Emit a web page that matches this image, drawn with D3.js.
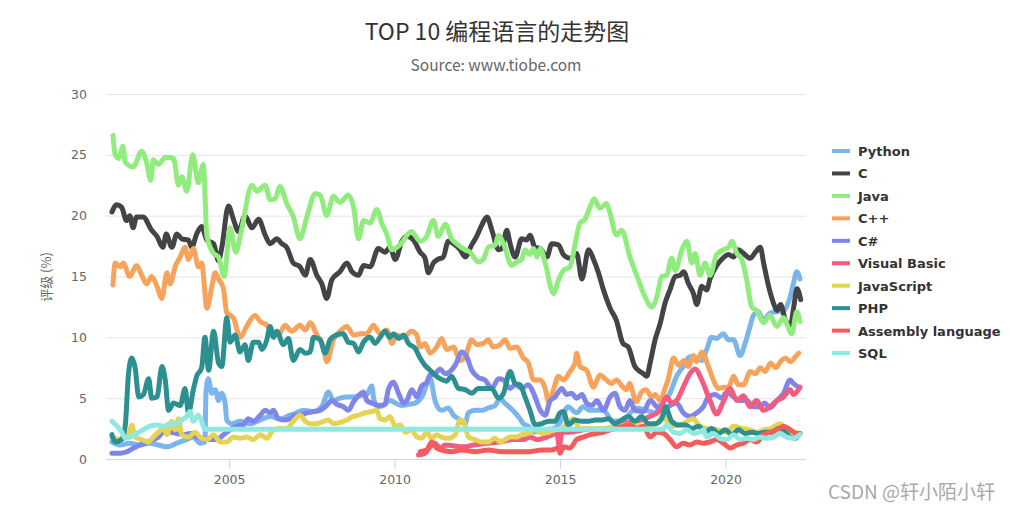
<!DOCTYPE html>
<html><head><meta charset="utf-8">
<script src="https://cdn.jsdelivr.net/npm/d3@7/dist/d3.min.js"></script>
<style>body{margin:0;background:#fff;} svg{display:block;}</style>
</head><body><svg id="chart" width="1010" height="511"></svg>
<script>
const titleText = "TOP 10 编程语言的走势图";
const subtitleText = "Source: www.tiobe.com";
const yAxisTitle = "评级 (%)";
const yTicks = [0, 5, 10, 15, 20, 25, 30];
const xTicks = [2005, 2010, 2015, 2020];
const seriesNames = ["Python", "C", "Java", "C++", "C#", "Visual Basic", "JavaScript", "PHP", "Assembly language", "SQL"];
const seriesColors = ["#7cb5ec", "#434348", "#90ed7d", "#f7a35c", "#8085e9", "#f15c80", "#e4d354", "#2b908f", "#f45b5b", "#91e8e1"];

// [year, rating %]
const pythonData = [[2001.46,1.4],[2001.71,1.15],[2002.0,1.3],[2002.3,1.15],[2002.6,1.3],[2002.86,1.15],[2003.12,1.0],[2003.42,1.3],[2003.72,1.6],[2003.92,1.8],[2004.12,1.3],[2004.27,1.4],[2004.3,5.4],[2004.37,6.6],[2004.48,5.4],[2004.58,5.7],[2004.68,4.8],[2004.78,5.4],[2004.88,4.6],[2004.93,3.2],[2005.08,2.9],[2005.33,3.1],[2005.63,2.9],[2005.94,3.2],[2006.24,3.5],[2006.54,3.3],[2006.84,3.6],[2007.04,3.8],[2007.24,4.0],[2007.55,3.9],[2007.8,4.3],[2008.0,5.5],[2008.15,4.8],[2008.35,5.0],[2008.56,5.1],[2008.76,5.1],[2008.91,5.2],[2009.16,5.3],[2009.31,6.0],[2009.38,4.8],[2009.51,4.3],[2009.66,4.4],[2009.86,4.8],[2010.02,4.6],[2010.22,4.4],[2010.42,4.5],[2010.62,4.6],[2010.82,5.1],[2011.08,6.6],[2011.22,4.8],[2011.42,4.0],[2011.62,4.2],[2011.78,3.6],[2011.93,3.3],[2012.13,2.9],[2012.23,3.8],[2012.43,4.0],[2012.63,4.0],[2012.83,4.2],[2013.04,4.4],[2013.19,5.0],[2013.29,4.7],[2013.49,4.2],[2013.64,3.8],[2013.79,3.3],[2013.89,2.9],[2014.04,2.7],[2014.2,2.2],[2014.5,2.4],[2014.8,2.5],[2015.0,3.0],[2015.24,4.3],[2015.5,3.8],[2015.7,4.3],[2015.9,4.0],[2016.3,4.0],[2016.6,3.1],[2016.9,3.2],[2017.31,4.2],[2017.61,4.0],[2017.87,3.8],[2018.07,4.6],[2018.32,5.4],[2018.52,6.8],[2018.72,7.6],[2018.92,8.4],[2019.13,8.3],[2019.28,8.1],[2019.43,9.0],[2019.58,10.0],[2019.73,9.9],[2019.93,10.3],[2020.09,9.8],[2020.24,9.8],[2020.44,8.5],[2020.59,9.5],[2020.74,10.9],[2020.84,11.8],[2020.99,12.1],[2021.14,11.4],[2021.34,12.0],[2021.54,12.1],[2021.75,12.2],[2021.95,13.3],[2022.05,14.4],[2022.15,15.4],[2022.25,14.8]];
const cData = [[2001.46,20.3],[2001.6,20.9],[2001.75,20.7],[2001.9,19.6],[2002.0,20.0],[2002.1,19.0],[2002.2,19.9],[2002.4,19.9],[2002.66,18.8],[2002.82,18.3],[2003.0,17.4],[2003.1,18.5],[2003.27,17.4],[2003.42,18.5],[2003.57,18.1],[2003.77,18.0],[2003.87,17.4],[2004.02,18.5],[2004.17,19.1],[2004.33,18.0],[2004.53,17.7],[2004.68,16.3],[2004.78,17.4],[2004.98,20.8],[2005.13,19.7],[2005.28,18.7],[2005.48,20.0],[2005.69,19.0],[2005.89,19.7],[2006.09,18.4],[2006.24,17.7],[2006.44,18.1],[2006.59,17.7],[2006.74,17.4],[2006.94,16.1],[2007.14,15.8],[2007.3,15.1],[2007.45,16.4],[2007.65,15.1],[2007.8,14.4],[2007.95,13.2],[2008.1,14.7],[2008.35,15.4],[2008.56,16.1],[2008.71,15.4],[2008.91,15.1],[2009.06,15.9],[2009.26,15.8],[2009.51,17.3],[2009.71,17.0],[2009.86,17.4],[2010.02,16.4],[2010.22,17.9],[2010.37,18.3],[2010.57,18.0],[2010.77,17.0],[2010.92,16.5],[2011.02,15.3],[2011.17,16.1],[2011.3,16.4],[2011.47,16.6],[2011.62,17.9],[2011.78,17.7],[2011.98,17.2],[2012.13,16.6],[2012.33,17.6],[2012.48,18.3],[2012.63,19.2],[2012.79,19.9],[2012.94,18.8],[2013.14,17.2],[2013.24,17.3],[2013.39,18.8],[2013.49,17.7],[2013.64,16.6],[2013.84,18.1],[2013.99,18.0],[2014.09,18.4],[2014.24,17.4],[2014.4,17.3],[2014.6,16.6],[2014.75,17.7],[2014.95,17.6],[2015.1,16.8],[2015.3,16.5],[2015.5,16.9],[2015.66,14.8],[2015.86,17.2],[2016.01,16.4],[2016.16,15.3],[2016.31,13.9],[2016.51,12.4],[2016.7,11.4],[2016.9,9.5],[2017.06,9.2],[2017.26,7.6],[2017.41,7.2],[2017.52,7.0],[2017.62,6.8],[2017.72,7.9],[2017.87,9.8],[2018.02,11.1],[2018.17,12.8],[2018.32,13.9],[2018.48,15.0],[2018.63,15.1],[2018.73,15.4],[2018.88,14.4],[2019.03,13.6],[2019.13,12.7],[2019.28,14.2],[2019.43,13.9],[2019.53,14.8],[2019.73,15.9],[2019.88,16.4],[2020.09,16.8],[2020.24,16.6],[2020.39,17.2],[2020.54,16.9],[2020.75,16.5],[2020.9,17.0],[2021.05,17.4],[2021.15,16.1],[2021.3,14.2],[2021.45,12.8],[2021.55,12.2],[2021.66,12.7],[2021.81,11.4],[2021.96,11.0],[2022.06,12.5],[2022.16,14.0],[2022.27,13.1]];
const javaData = [[2001.49,26.6],[2001.56,25.0],[2001.66,24.7],[2001.79,25.7],[2001.86,24.4],[2002.1,24.0],[2002.36,25.3],[2002.51,24.3],[2002.63,22.9],[2002.71,24.6],[2002.86,24.2],[2003.07,24.8],[2003.32,24.7],[2003.47,22.5],[2003.57,23.2],[2003.72,22.0],[2003.9,25.0],[2004.07,22.7],[2004.22,24.2],[2004.33,18.3],[2004.53,16.9],[2004.68,16.6],[2004.85,15.0],[2005.03,19.0],[2005.2,17.0],[2005.35,18.5],[2005.69,22.5],[2005.84,22.0],[2006.09,22.5],[2006.24,21.3],[2006.39,21.4],[2006.54,22.4],[2006.74,21.0],[2006.94,19.9],[2007.14,18.1],[2007.35,19.9],[2007.6,21.8],[2007.75,21.7],[2007.95,20.0],[2008.15,21.6],[2008.35,21.1],[2008.6,21.7],[2008.76,20.7],[2008.91,18.1],[2009.06,19.6],[2009.26,19.4],[2009.46,20.5],[2009.61,19.4],[2009.76,18.5],[2009.92,17.2],[2010.16,17.6],[2010.51,18.7],[2010.77,17.9],[2010.97,18.3],[2011.17,19.6],[2011.32,18.3],[2011.53,19.3],[2011.72,18.1],[2011.87,17.7],[2012.07,17.3],[2012.28,17.0],[2012.53,16.2],[2012.68,16.4],[2012.83,17.4],[2013.04,17.6],[2013.14,18.4],[2013.29,17.7],[2013.54,15.9],[2013.69,16.2],[2013.84,16.4],[2013.94,17.2],[2014.09,16.8],[2014.2,17.3],[2014.3,16.6],[2014.4,17.3],[2014.55,16.1],[2014.8,13.6],[2014.95,14.7],[2015.1,15.5],[2015.3,15.8],[2015.45,17.6],[2015.6,19.4],[2015.75,19.7],[2015.9,20.7],[2016.03,21.4],[2016.2,20.6],[2016.4,21.0],[2016.5,20.3],[2016.7,18.4],[2016.86,18.8],[2017.11,16.6],[2017.37,14.7],[2017.57,13.3],[2017.77,12.5],[2017.92,13.3],[2018.07,15.0],[2018.22,15.1],[2018.37,16.5],[2018.48,15.5],[2018.68,17.2],[2018.83,17.9],[2018.98,16.1],[2019.08,16.9],[2019.23,15.1],[2019.38,16.1],[2019.53,15.1],[2019.73,16.8],[2019.94,17.2],[2020.09,17.4],[2020.19,17.9],[2020.34,16.9],[2020.49,16.4],[2020.64,14.7],[2020.79,12.5],[2020.94,12.2],[2021.15,11.2],[2021.34,11.8],[2021.55,10.9],[2021.75,11.6],[2022.0,10.3],[2022.15,12.1],[2022.25,11.3]];
const cppData = [[2001.49,14.3],[2001.56,16.1],[2001.71,15.8],[2001.8,16.1],[2002.0,15.0],[2002.2,15.9],[2002.36,15.1],[2002.51,14.4],[2002.66,15.0],[2002.82,14.2],[2002.97,13.2],[2003.12,15.3],[2003.22,14.4],[2003.37,15.8],[2003.52,16.6],[2003.67,17.4],[2003.77,16.4],[2003.92,17.3],[2004.07,15.8],[2004.17,16.1],[2004.33,12.4],[2004.48,14.2],[2004.58,15.3],[2004.68,14.8],[2004.83,14.0],[2004.93,12.0],[2005.13,11.6],[2005.33,10.0],[2005.53,10.9],[2005.78,11.8],[2005.94,11.3],[2006.14,11.0],[2006.29,10.5],[2006.49,10.2],[2006.69,11.0],[2006.89,10.5],[2007.14,11.0],[2007.3,10.6],[2007.45,11.2],[2007.65,10.2],[2007.85,9.2],[2007.95,8.0],[2008.15,9.8],[2008.35,10.5],[2008.56,10.9],[2008.76,10.2],[2008.96,10.3],[2009.16,10.3],[2009.36,11.0],[2009.56,10.3],[2009.76,10.6],[2009.92,9.5],[2010.07,10.2],[2010.27,10.0],[2010.51,10.5],[2010.67,10.2],[2010.77,9.2],[2010.92,9.5],[2011.07,8.7],[2011.27,9.2],[2011.42,9.9],[2011.57,9.0],[2011.78,9.2],[2011.98,8.1],[2012.13,8.4],[2012.33,9.8],[2012.48,9.4],[2012.68,9.5],[2012.83,9.8],[2012.98,9.2],[2013.19,9.4],[2013.34,9.8],[2013.49,9.1],[2013.69,9.2],[2013.89,8.3],[2014.04,7.9],[2014.2,6.5],[2014.4,6.5],[2014.55,5.8],[2014.65,4.7],[2014.8,5.7],[2014.95,6.8],[2015.1,6.5],[2015.3,7.2],[2015.45,7.9],[2015.5,8.7],[2015.6,7.6],[2015.8,7.3],[2016.01,5.9],[2016.2,6.9],[2016.4,6.5],[2016.55,6.2],[2016.7,6.5],[2016.9,5.9],[2017.0,5.7],[2017.1,6.2],[2017.3,4.7],[2017.46,5.5],[2017.6,5.7],[2017.77,5.1],[2017.87,5.3],[2018.02,4.8],[2018.17,5.8],[2018.27,6.6],[2018.43,8.3],[2018.58,7.7],[2018.73,8.1],[2018.88,7.6],[2019.03,8.5],[2019.13,8.0],[2019.28,8.8],[2019.48,7.6],[2019.63,6.5],[2019.78,5.8],[2019.94,5.9],[2020.09,5.9],[2020.24,6.8],[2020.39,6.1],[2020.54,6.1],[2020.75,7.2],[2020.9,7.0],[2021.05,7.5],[2021.2,7.2],[2021.36,7.9],[2021.51,7.5],[2021.66,8.0],[2021.81,8.3],[2021.96,8.0],[2022.11,8.4],[2022.21,8.7]];
const csharpData = [[2001.46,0.47],[2001.71,0.47],[2001.91,0.6],[2002.11,0.9],[2002.31,1.15],[2002.51,1.4],[2002.71,1.6],[2002.86,1.8],[2003.02,2.2],[2003.22,2.2],[2003.42,2.1],[2003.62,2.0],[2003.82,2.1],[2004.02,1.8],[2004.22,1.7],[2004.43,1.6],[2004.63,1.6],[2004.83,2.0],[2005.03,2.4],[2005.23,2.7],[2005.43,2.8],[2005.58,3.3],[2005.73,3.1],[2005.94,3.6],[2006.09,4.0],[2006.24,3.8],[2006.34,4.0],[2006.49,3.3],[2006.64,3.2],[2006.84,3.3],[2006.99,3.6],[2007.14,3.6],[2007.35,3.8],[2007.55,3.9],[2007.75,4.0],[2007.95,4.4],[2008.1,4.8],[2008.25,4.5],[2008.45,4.3],[2008.6,4.0],[2008.76,4.7],[2008.91,5.2],[2009.06,5.5],[2009.16,4.8],[2009.31,4.6],[2009.51,4.4],[2009.71,4.5],[2009.81,5.7],[2009.96,6.3],[2010.12,5.4],[2010.27,4.6],[2010.37,4.8],[2010.52,5.7],[2010.67,5.1],[2010.82,6.0],[2010.97,6.3],[2011.07,6.9],[2011.22,7.0],[2011.37,7.4],[2011.53,7.0],[2011.68,7.2],[2011.85,7.8],[2012.03,8.8],[2012.18,8.4],[2012.33,7.3],[2012.53,6.7],[2012.73,6.5],[2012.94,5.8],[2013.14,6.6],[2013.29,6.5],[2013.49,5.8],[2013.64,6.1],[2013.84,5.8],[2014.04,6.1],[2014.2,5.4],[2014.4,4.0],[2014.55,3.6],[2014.7,4.8],[2014.85,5.1],[2015.05,5.8],[2015.2,5.3],[2015.35,5.4],[2015.5,5.0],[2015.66,5.3],[2015.8,4.6],[2015.96,4.4],[2016.11,4.8],[2016.31,4.0],[2016.51,5.1],[2016.66,5.4],[2016.81,4.3],[2016.96,4.0],[2017.11,4.8],[2017.26,4.0],[2017.52,3.9],[2017.72,4.8],[2017.92,4.3],[2018.12,4.0],[2018.32,4.4],[2018.52,4.6],[2018.72,3.8],[2018.92,3.5],[2019.13,3.8],[2019.33,4.3],[2019.48,5.1],[2019.68,5.3],[2019.88,5.0],[2020.04,5.5],[2020.24,5.1],[2020.44,4.8],[2020.64,4.8],[2020.84,4.3],[2021.04,4.3],[2021.19,4.6],[2021.34,4.2],[2021.55,4.8],[2021.75,5.4],[2021.95,6.5],[2022.05,6.2],[2022.2,5.9]];
const vbData = [[2010.72,0.33],[2010.92,0.47],[2011.07,1.0],[2011.22,1.3],[2011.37,0.9],[2011.53,1.15],[2012.08,1.0],[2012.38,1.15],[2012.79,1.3],[2013.19,1.4],[2013.59,1.6],[2013.89,1.6],[2014.09,1.8],[2014.3,1.6],[2014.6,1.8],[2014.9,2.1],[2014.98,1.0],[2015.05,2.2],[2015.3,2.2],[2015.7,2.4],[2016.11,2.5],[2016.51,2.5],[2016.91,2.9],[2017.31,3.1],[2017.72,3.5],[2018.02,4.0],[2018.22,5.1],[2018.37,4.6],[2018.52,4.8],[2018.72,5.9],[2018.92,7.0],[2019.08,7.4],[2019.28,6.5],[2019.53,4.8],[2019.73,3.7],[2019.93,4.7],[2020.14,5.8],[2020.34,4.8],[2020.54,5.2],[2020.74,4.3],[2020.94,4.8],[2021.14,4.0],[2021.35,4.3],[2021.55,4.8],[2021.75,5.1],[2021.95,5.7],[2022.05,5.3],[2022.25,5.9]];
const jsData = [[2001.46,1.8],[2001.71,1.6],[2001.96,2.0],[2002.06,2.8],[2002.16,1.8],[2002.36,1.6],[2002.56,1.4],[2002.71,1.8],[2002.86,2.2],[2003.02,2.5],[2003.12,2.0],[2003.27,3.1],[2003.37,2.4],[2003.47,3.3],[2003.57,2.0],[2003.77,1.8],[2003.97,2.2],[2004.12,1.8],[2004.33,1.6],[2004.53,2.0],[2004.73,1.4],[2004.93,1.4],[2005.13,1.8],[2005.33,1.7],[2005.53,1.8],[2005.73,1.6],[2005.94,2.0],[2006.14,1.7],[2006.34,2.4],[2006.54,2.5],[2006.74,2.5],[2006.94,3.1],[2007.14,3.6],[2007.3,3.1],[2007.45,2.9],[2007.65,2.9],[2007.85,3.1],[2008.0,3.2],[2008.15,2.9],[2008.35,3.0],[2008.56,3.2],[2008.76,3.5],[2008.91,3.6],[2009.11,3.8],[2009.31,3.9],[2009.46,4.0],[2009.56,3.3],[2009.71,3.2],[2009.86,3.5],[2010.02,2.7],[2010.17,2.8],[2010.32,2.2],[2010.52,2.4],[2010.67,1.8],[2010.82,1.7],[2010.97,2.2],[2011.12,1.7],[2011.27,2.0],[2011.42,1.8],[2011.62,1.7],[2011.83,2.0],[2011.98,3.2],[2012.08,3.1],[2012.23,1.8],[2012.43,1.6],[2012.63,1.4],[2012.83,1.4],[2013.04,1.7],[2013.19,1.4],[2013.34,1.6],[2013.49,1.8],[2013.69,1.8],[2013.84,2.0],[2014.04,2.1],[2014.24,2.4],[2014.45,2.1],[2014.65,2.2],[2014.85,2.4],[2015.05,2.5],[2015.2,2.9],[2015.4,3.3],[2015.6,2.5],[2015.9,2.5],[2016.31,2.5],[2016.71,2.7],[2017.11,2.8],[2017.52,2.7],[2017.92,2.9],[2018.12,3.6],[2018.32,2.7],[2018.63,2.8],[2019.03,3.3],[2019.18,2.8],[2019.43,2.5],[2019.73,2.4],[2020.04,2.2],[2020.24,2.7],[2020.54,2.5],[2020.74,2.4],[2020.95,2.2],[2021.15,2.4],[2021.35,2.5],[2021.65,2.9],[2021.85,2.4],[2022.05,2.2],[2022.25,2.1]];
const phpData = [[2001.46,2.0],[2001.56,1.4],[2001.75,1.6],[2001.86,2.7],[2001.96,7.0],[2002.06,8.3],[2002.16,7.5],[2002.27,5.1],[2002.41,5.3],[2002.57,6.6],[2002.66,5.0],[2002.82,5.1],[2002.97,7.6],[2003.07,6.5],[2003.17,4.0],[2003.32,4.6],[2003.52,4.4],[2003.67,5.8],[2003.77,3.8],[2003.92,5.7],[2004.02,6.8],[2004.17,7.5],[2004.27,10.0],[2004.38,7.3],[2004.53,10.5],[2004.68,7.9],[2004.78,7.6],[2004.93,11.6],[2005.03,9.6],[2005.18,10.2],[2005.33,8.8],[2005.48,9.4],[2005.58,8.1],[2005.73,9.6],[2005.89,9.6],[2005.99,9.0],[2006.14,9.8],[2006.24,10.9],[2006.34,10.0],[2006.44,10.5],[2006.64,9.4],[2006.79,9.9],[2006.94,8.1],[2007.14,9.0],[2007.3,8.7],[2007.45,8.8],[2007.55,10.0],[2007.75,9.8],[2007.9,8.7],[2008.05,9.8],[2008.25,10.2],[2008.45,10.3],[2008.6,9.6],[2008.76,9.5],[2008.91,8.8],[2009.06,9.6],[2009.26,10.0],[2009.41,9.5],[2009.56,10.0],[2009.71,10.5],[2009.86,10.0],[2009.97,10.3],[2010.12,9.9],[2010.27,10.2],[2010.42,9.5],[2010.62,9.1],[2010.77,8.3],[2010.92,7.7],[2011.07,7.3],[2011.22,6.9],[2011.37,6.6],[2011.57,6.4],[2011.72,6.8],[2011.93,5.8],[2012.13,5.7],[2012.33,5.4],[2012.53,5.8],[2012.73,5.8],[2012.93,5.8],[2013.14,5.0],[2013.29,5.4],[2013.49,7.2],[2013.64,6.2],[2013.79,6.1],[2013.94,5.1],[2014.09,4.0],[2014.25,2.8],[2014.45,2.9],[2014.65,3.1],[2014.85,3.1],[2015.0,3.8],[2015.1,3.9],[2015.25,2.8],[2015.45,3.2],[2015.65,3.1],[2015.86,3.1],[2016.06,3.2],[2016.26,3.2],[2016.46,3.3],[2016.66,2.9],[2016.86,3.2],[2017.06,3.5],[2017.26,3.1],[2017.46,3.5],[2017.67,2.9],[2017.87,2.9],[2018.07,3.3],[2018.2,4.3],[2018.27,3.8],[2018.37,3.1],[2018.58,2.8],[2018.78,2.8],[2018.98,2.5],[2019.18,2.7],[2019.38,2.2],[2019.58,2.5],[2019.79,2.1],[2019.99,2.4],[2020.19,2.0],[2020.39,2.4],[2020.59,2.1],[2020.79,2.2],[2020.99,2.1],[2021.2,2.2],[2021.4,2.2],[2021.6,2.5],[2021.8,2.2],[2021.96,1.8],[2022.11,1.7],[2022.21,2.0]];
const asmData = [[2010.77,0.6],[2010.97,0.74],[2011.12,1.4],[2011.27,0.9],[2011.42,0.74],[2011.73,0.6],[2012.03,0.74],[2012.43,0.6],[2012.83,0.74],[2013.24,0.6],[2013.64,0.6],[2014.04,0.6],[2014.45,0.74],[2014.75,0.74],[2014.95,0.9],[2015.0,0.47],[2015.1,1.0],[2015.3,0.9],[2015.5,1.6],[2015.7,1.8],[2015.91,2.0],[2016.11,2.1],[2016.31,2.2],[2016.51,2.4],[2016.71,2.5],[2016.91,2.7],[2017.11,2.8],[2017.31,2.5],[2017.52,2.7],[2017.72,1.8],[2017.92,2.2],[2018.12,2.1],[2018.32,1.6],[2018.52,1.0],[2018.72,1.3],[2018.92,1.15],[2019.13,1.4],[2019.33,1.3],[2019.53,1.4],[2019.73,1.6],[2019.93,1.3],[2020.14,0.9],[2020.34,1.15],[2020.54,1.3],[2020.74,1.6],[2020.94,1.4],[2021.14,2.0],[2021.35,2.2],[2021.55,2.4],[2021.75,2.7],[2021.95,2.4],[2022.15,2.1],[2022.25,2.1]];
const sqlData = [[2001.46,3.1],[2001.61,2.7],[2001.76,2.2],[2001.86,1.7],[2002.01,1.8],[2002.21,2.1],[2002.41,2.4],[2002.61,2.7],[2002.82,2.8],[2003.02,2.7],[2003.22,2.9],[2003.42,2.9],[2003.57,3.2],[2003.72,3.5],[2003.82,3.9],[2003.92,3.1],[2004.07,3.6],[2004.17,3.1],[2004.27,2.45],[2018.1,2.45],[2018.22,2.8],[2018.42,2.2],[2018.63,2.1],[2018.83,2.4],[2019.03,2.1],[2019.23,2.2],[2019.33,2.4],[2019.43,1.8],[2019.63,2.1],[2019.83,1.7],[2020.04,1.6],[2020.24,2.0],[2020.44,1.6],[2020.64,1.7],[2020.84,1.6],[2021.04,1.8],[2021.25,1.7],[2021.45,1.8],[2021.65,2.1],[2021.85,1.8],[2022.05,1.7],[2022.25,2.0]];

const seriesData = [pythonData, cData, javaData, cppData, csharpData, vbData, jsData, phpData, asmData, sqlData];

const svg = d3.select("#chart");
const plot = {left: 106, right: 806, top: 94, bottom: 459};

const x = d3.scaleLinear().domain([2001.28, 2022.43]).range([plot.left, plot.right]);
const y = d3.scaleLinear().domain([0, 30]).range([plot.bottom, plot.top]);

// title
svg.append("text").attr("x", 497).attr("y", 40).attr("text-anchor", "middle")
  .attr("font-family", "'Noto Sans CJK SC', 'Noto Sans', sans-serif").attr("font-size", 23)
  .attr("fill", "#333").text(titleText);
svg.append("text").attr("x", 496).attr("y", 71).attr("text-anchor", "middle")
  .attr("font-family", "'Noto Sans CJK SC', 'Noto Sans', sans-serif").attr("font-size", 15.5)
  .attr("fill", "#666").text(subtitleText);

// grid
const grid = svg.append("g");
grid.selectAll("line").data(yTicks.filter(d => d > 0)).enter().append("line")
  .attr("x1", plot.left).attr("x2", plot.right)
  .attr("y1", d => y(d) + 0.5).attr("y2", d => y(d) + 0.5)
  .attr("stroke", "#e6e6e6").attr("stroke-width", 1);

// y axis labels
const yAxis = d3.axisLeft(y).tickValues(yTicks).tickSize(0).tickPadding(19);
const yg = svg.append("g").attr("transform", `translate(${plot.left},0)`).call(yAxis);
yg.select(".domain").remove();
yg.selectAll("text").attr("font-family", "'DejaVu Sans', sans-serif").attr("font-size", 12.5).attr("fill", "#666");

// x axis
const xAxis = d3.axisBottom(x).tickValues(xTicks).tickFormat(d3.format("d")).tickSize(10).tickPadding(6);
const xg = svg.append("g").attr("transform", `translate(0,${plot.bottom})`).call(xAxis);
xg.select(".domain").attr("stroke", "#ccd6eb").attr("d", `M${plot.left},0.5H${plot.right}`);
xg.selectAll(".tick line").attr("stroke", "#ccd6eb");
xg.selectAll("text").attr("font-family", "'DejaVu Sans', sans-serif").attr("font-size", 12.5).attr("fill", "#666");

// y axis title
svg.append("text").attr("transform", "translate(51,277) rotate(-90)").attr("text-anchor", "middle")
  .attr("font-family", "'Noto Sans CJK SC', sans-serif").attr("font-size", 13).attr("fill", "#666")
  .text(yAxisTitle);

// lines
const line = d3.line().x(d => x(d[0])).y(d => y(d[1])).curve(d3.curveMonotoneX);
const lines = svg.append("g");
seriesData.forEach((data, i) => {
  lines.append("path").datum(data).attr("d", line)
    .attr("fill", "none").attr("stroke", seriesColors[i]).attr("stroke-width", 5)
    .attr("stroke-linejoin", "round").attr("stroke-linecap", "round");
});

// legend
const legend = svg.append("g").attr("transform", "translate(832,151)");
const items = legend.selectAll("g").data(seriesNames).enter().append("g")
  .attr("transform", (d, i) => `translate(0,${i * 22.45})`);
items.append("line").attr("x1", 0).attr("x2", 18).attr("y1", 0).attr("y2", 0)
  .attr("stroke", (d, i) => seriesColors[i]).attr("stroke-width", 4);
items.append("text").attr("x", 26).attr("y", 5)
  .attr("font-family", "'DejaVu Sans', sans-serif").attr("font-size", 13).attr("font-weight", "bold")
  .attr("fill", "#333").text(d => d);

// watermark
svg.append("text").attr("x", 995).attr("y", 499).attr("text-anchor", "end")
  .attr("font-family", "'Noto Sans CJK SC', sans-serif").attr("font-size", 19).attr("fill", "#a8a8a8")
  .text("CSDN @轩小陌小轩");
</script>
</body></html>
